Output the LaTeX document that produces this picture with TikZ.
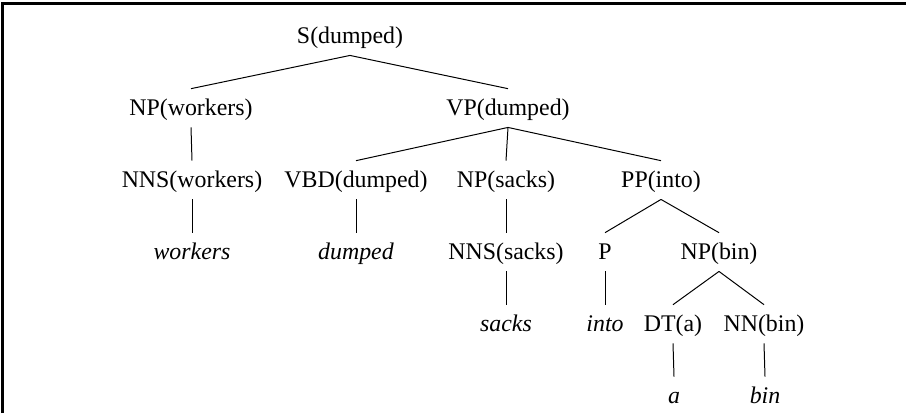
\documentclass[tikz,border=0pt]{standalone}
\usepackage{fontspec}
\setmainfont{Liberation Serif}
\usepackage{tikz}

\begin{document}
\begin{tikzpicture}[x=0.503pt, y=-0.503pt, line width=0.5pt,
    every node/.style={font=\rmfamily\fontsize{12}{14}\selectfont, anchor=base,
      inner sep=4pt, text height=9pt, text depth=2pt},
    leaf/.style={font=\rmfamily\fontsize{12}{14}\selectfont\itshape}]

    \useasboundingbox (0,0) rectangle (906,413);
    \draw[line width=1.1pt] (2.5,413) -- (2.5,3.5) -- (906,3.5);

    % levels at 43 + 72k
    \node (S)    at (350,43)  {S(dumped)};

    \node (NPw)  at (191,115) {NP(workers)};
    \node (VP)   at (508,115) {VP(dumped)};

    \node (NNSw) at (192,187) {NNS(workers)};
    \node (VBD)  at (356,187) {VBD(dumped)};
    \node (NPs)  at (506,187) {NP(sacks)};
    \node (PP)   at (661,187) {PP(into)};

    \node[leaf] (workers) at (192,259) {workers};
    \node[leaf] (dumped)  at (356,259) {dumped};
    \node (NNSs) at (506,259) {NNS(sacks)};
    \node (P)    at (605,259) {P};
    \node (NPb)  at (719,259) {NP(bin)};

    \node[leaf] (sacks) at (506,331) {sacks};
    \node[leaf] (into)  at (605,331) {into};
    \node (DT)   at (673,331) {DT(a)};
    \node (NN)   at (764,331) {NN(bin)};

    \node[leaf] (a)   at (674,403) {a};
    \node[leaf] (bin) at (765,403) {bin};

    \foreach \p/\c in {S/NPw, S/VP, NPw/NNSw, VP/VBD, VP/NPs, VP/PP,
        NNSw/workers, VBD/dumped, NPs/NNSs, PP/P, PP/NPb,
        NNSs/sacks, P/into, NPb/DT, NPb/NN, DT/a, NN/bin}
      \draw (\p.south) -- (\c.north);
\end{tikzpicture}
\end{document}
